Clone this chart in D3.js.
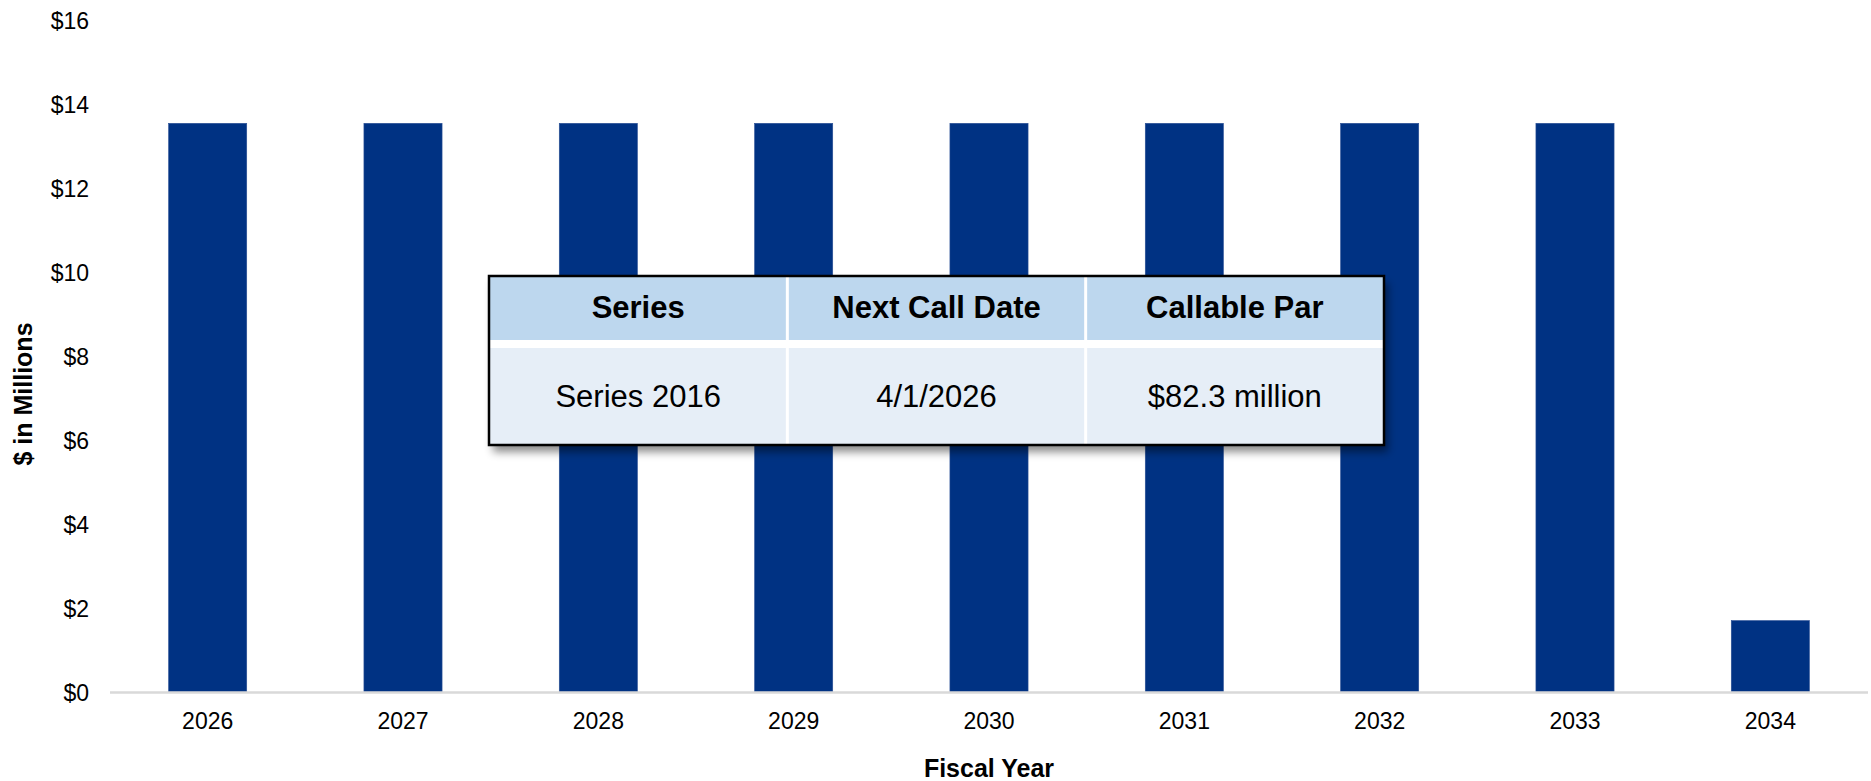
<!DOCTYPE html>
<html>
<head>
<meta charset="utf-8">
<script src="https://cdn.jsdelivr.net/npm/d3@7"></script>
<style>
	body { margin: 0; background: #fff; }
	svg { display: block; font-family: "Liberation Sans", Arial, sans-serif; }
	.tick text { fill: #000; }
</style>
</head>
<body>
<svg id="chart" width="1871" height="781"></svg>
<script>
	// fiscal years and debt service ($ millions)
	var years = ["2026", "2027", "2028", "2029", "2030", "2031", "2032", "2033", "2034"];
	var amounts = [13.54, 13.54, 13.54, 13.54, 13.54, 13.54, 13.54, 13.54, 1.70];
	var yTicks = [0, 2, 4, 6, 8, 10, 12, 14, 16];

	// call table shown over the bars
	var tableHead = ["Series", "Next Call Date", "Callable Par"];
	var tableRow = ["Series 2016", "4/1/2026", "$82.3 million"];

	var svg = d3.select("#chart"),
		plotLeft = 110,
		plotRight = 1868,
		plotTop = 20,
		plotBottom = 692;

	var x = d3.scaleBand()
		.domain(years)
		.range([plotLeft, plotRight])
		.paddingInner(0.6)
		.paddingOuter(0.3);

	var y = d3.scaleLinear()
		.domain([0, 16])
		.range([plotBottom, plotTop]);

	// bars
	svg.append("g")
		.selectAll("rect")
		.data(amounts)
		.enter()
		.append("rect")
		.attr("x", function(d, i){ return x(years[i]); })
		.attr("width", x.bandwidth())
		.attr("y", function(d){ return y(d); })
		.attr("height", function(d){ return y(0) - y(d); })
		.attr("fill", "#003283")
		.attr("stroke", "#2a4f95")
		.attr("stroke-width", 0.6);

	// y axis (labels only)
	var yAxis = svg.append("g")
		.attr("transform", "translate(" + (plotLeft - 21) + ",0)")
		.call(d3.axisLeft(y).tickValues(yTicks).tickSize(0).tickPadding(0)
			.tickFormat(function(d){ return "$" + d; }));
	yAxis.select(".domain").remove();
	yAxis.selectAll("text").attr("font-size", 23).attr("font-family", null).attr("dy", "0.36em");

	// x axis
	var xAxis = svg.append("g")
		.attr("transform", "translate(0," + plotBottom + ")")
		.call(d3.axisBottom(x).tickSize(0).tickPadding(0));
	xAxis.select(".domain").remove();
	xAxis.selectAll("text").attr("font-size", 23).attr("font-family", null).attr("dy", 0).attr("y", 36.5);

	svg.append("line")
		.attr("x1", plotLeft).attr("x2", plotRight)
		.attr("y1", y(0) + 0.5).attr("y2", y(0) + 0.5)
		.attr("stroke", "#d9d9d9")
		.attr("stroke-width", 2.5);

	// axis titles
	svg.append("text")
		.attr("x", (plotLeft + plotRight) / 2)
		.attr("y", 777)
		.attr("text-anchor", "middle")
		.attr("font-size", 25)
		.attr("font-weight", "bold")
		.text("Fiscal Year");

	svg.append("text")
		.attr("transform", "translate(32,394) rotate(-90)")
		.attr("text-anchor", "middle")
		.attr("font-size", 25)
		.attr("font-weight", "bold")
		.text("$ in Millions");

	// call table
	var tx = 489, ty = 276, tw = 895, headH = 64, gap = 8, rowH = 97,
		colW = tw / tableHead.length;

	var defs = svg.append("defs");
	var shadow = defs.append("filter")
		.attr("id", "tbl_shadow")
		.attr("x", "-5%").attr("y", "-10%")
		.attr("width", "115%").attr("height", "130%");
	shadow.append("feDropShadow")
		.attr("dx", 4).attr("dy", 7)
		.attr("stdDeviation", 4)
		.attr("flood-color", "#000")
		.attr("flood-opacity", 0.45);

	var table = svg.append("g");

	table.append("rect")
		.attr("x", tx).attr("y", ty)
		.attr("width", tw).attr("height", headH + gap + rowH)
		.attr("fill", "#fff")
		.attr("filter", "url(#tbl_shadow)");

	table.selectAll(".head_cell")
		.data(tableHead)
		.enter()
		.append("rect")
		.attr("class", "head_cell")
		.attr("x", function(d, i){ return tx + i * colW; })
		.attr("y", ty)
		.attr("width", colW)
		.attr("height", headH)
		.attr("fill", "#bdd7ee");

	table.selectAll(".body_cell")
		.data(tableRow)
		.enter()
		.append("rect")
		.attr("class", "body_cell")
		.attr("x", function(d, i){ return tx + i * colW; })
		.attr("y", ty + headH + gap)
		.attr("width", colW)
		.attr("height", rowH)
		.attr("fill", "#e6eef7");

	// white column dividers
	table.selectAll(".divider")
		.data(d3.range(1, tableHead.length))
		.enter()
		.append("line")
		.attr("class", "divider")
		.attr("x1", function(d){ return tx + d * colW; })
		.attr("x2", function(d){ return tx + d * colW; })
		.attr("y1", ty).attr("y2", ty + headH + gap + rowH)
		.attr("stroke", "#fff")
		.attr("stroke-width", 3);

	table.selectAll(".head_text")
		.data(tableHead)
		.enter()
		.append("text")
		.attr("class", "head_text")
		.attr("x", function(d, i){ return tx + (i + 0.5) * colW; })
		.attr("y", ty + 41.5)
		.attr("text-anchor", "middle")
		.attr("font-size", 31)
		.attr("font-weight", "bold")
		.text(function(d){ return d; });

	table.selectAll(".body_text")
		.data(tableRow)
		.enter()
		.append("text")
		.attr("class", "body_text")
		.attr("x", function(d, i){ return tx + (i + 0.5) * colW; })
		.attr("y", ty + 131)
		.attr("text-anchor", "middle")
		.attr("font-size", 31)
		.text(function(d){ return d; });

	table.append("rect")
		.attr("x", tx).attr("y", ty)
		.attr("width", tw).attr("height", headH + gap + rowH)
		.attr("fill", "none")
		.attr("stroke", "#000")
		.attr("stroke-width", 2.5);
</script>
</body>
</html>
